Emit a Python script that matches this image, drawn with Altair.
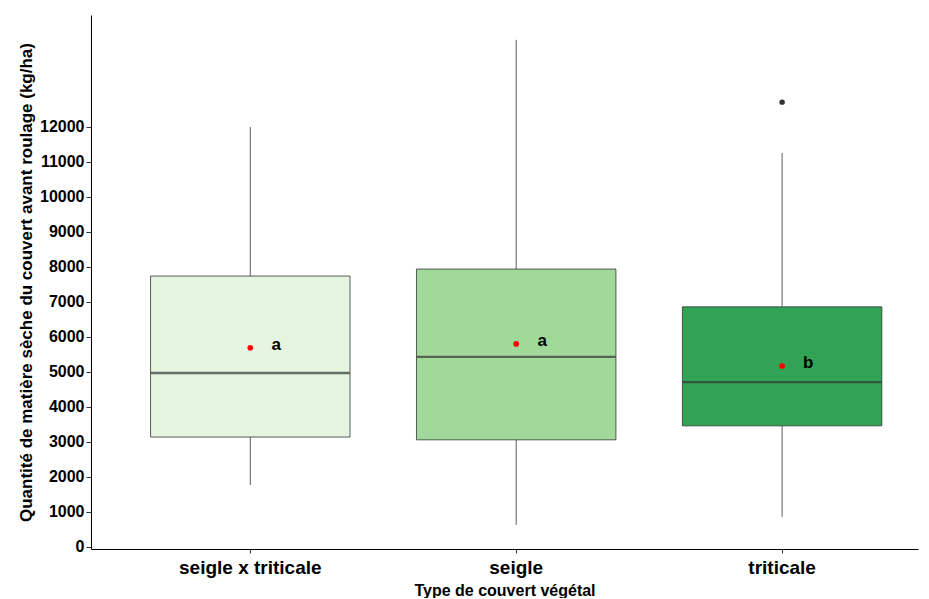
import altair as alt
import pandas as pd

categories = ["seigle x triticale", "seigle", "triticale"]
q1 = [3140, 3060, 3460]
median = [4970, 5430, 4710]
q3 = [7740, 7940, 6860]
whisk_lo = [1770, 630, 860]
whisk_hi = [12000, 14490, 11260]
means = [5690, 5800, 5170]
letters = ["a", "a", "b"]
fills = ["#e5f5e0", "#a1d99b", "#31a354"]
outlier_cat = ["triticale"]
outlier_val = [12710]

df = pd.DataFrame({
    "cat": categories, "q1": q1, "med": median, "q3": q3,
    "lo": whisk_lo, "hi": whisk_hi, "mean": means, "lab": letters,
})
dfo = pd.DataFrame({"cat": outlier_cat, "val": outlier_val})

font = "Liberation Sans"
xscale = alt.Scale(domain=categories, paddingInner=0, paddingOuter=0.055, align=0.9)
yscale = alt.Scale(domain=[-60, 15200], nice=False, zero=False)

xenc = alt.X("cat:N", scale=xscale, sort=categories, title="Type de couvert végétal",
             axis=alt.Axis(labelAngle=0, labelFont=font, labelFontSize=19, labelFontWeight="bold",
                           labelColor="black", titleFont=font, titleFontSize=16, titleFontWeight="bold",
                           titleColor="black", domainColor="black", tickColor="#333", tickSize=4,
                           labelPadding=5, titlePadding=5, grid=False))
yaxis = alt.Axis(values=list(range(0, 13000, 1000)), format="d", labelFont=font, labelFontSize=16,
                 labelFontWeight="bold", labelColor="black", titleFont=font, titleFontSize=17,
                 titleFontWeight="bold", titleColor="black", domainColor="black",
                 tickColor="#333", tickSize=5, labelPadding=2, titlePadding=4, grid=False)

base = alt.Chart(df)

whiskers_hi = base.mark_rule(color="#333", strokeWidth=0.8).encode(
    x=xenc, y=alt.Y("q3:Q", scale=yscale, axis=yaxis,
                    title="Quantité de matière sèche du couvert avant roulage (kg/ha)"),
    y2="hi:Q")
whiskers_lo = base.mark_rule(color="#333", strokeWidth=0.8).encode(
    x=alt.X("cat:N", sort=categories), y=alt.Y("lo:Q"), y2="q1:Q")
boxes = base.mark_bar(width=alt.RelativeBandSize(0.75), stroke="#333", strokeWidth=0.8).encode(
    x=alt.X("cat:N", sort=categories), y=alt.Y("q1:Q"), y2="q3:Q",
    color=alt.Color("cat:N", scale=alt.Scale(domain=categories, range=fills), legend=None))
medians = base.mark_tick(color="#333", thickness=2.4, size=199).encode(
    x=alt.X("cat:N", sort=categories), y=alt.Y("med:Q"))
mean_pts = base.mark_circle(color="red", size=32, opacity=1).encode(
    x=alt.X("cat:N", sort=categories), y=alt.Y("mean:Q"))
labels = base.mark_text(font=font, fontSize=17, fontWeight="bold", color="black",
                        dx=26, dy=-3, baseline="middle").encode(
    x=alt.X("cat:N", sort=categories), y=alt.Y("mean:Q"), text="lab:N")
outliers = alt.Chart(dfo).mark_circle(color="#333", size=30, opacity=1).encode(
    x=alt.X("cat:N", sort=categories), y=alt.Y("val:Q"))

chart = alt.layer(whiskers_hi, whiskers_lo, boxes, medians, mean_pts, labels, outliers).properties(
    width=827, height=534,
    autosize=alt.AutoSizeParams(type="none"),
    padding={"left": 83, "top": 7, "right": 3, "bottom": 49},
    background="white",
).configure_view(strokeWidth=0, stroke=None)

chart.save("out.html", embed_options={"renderer": "svg", "actions": False})
